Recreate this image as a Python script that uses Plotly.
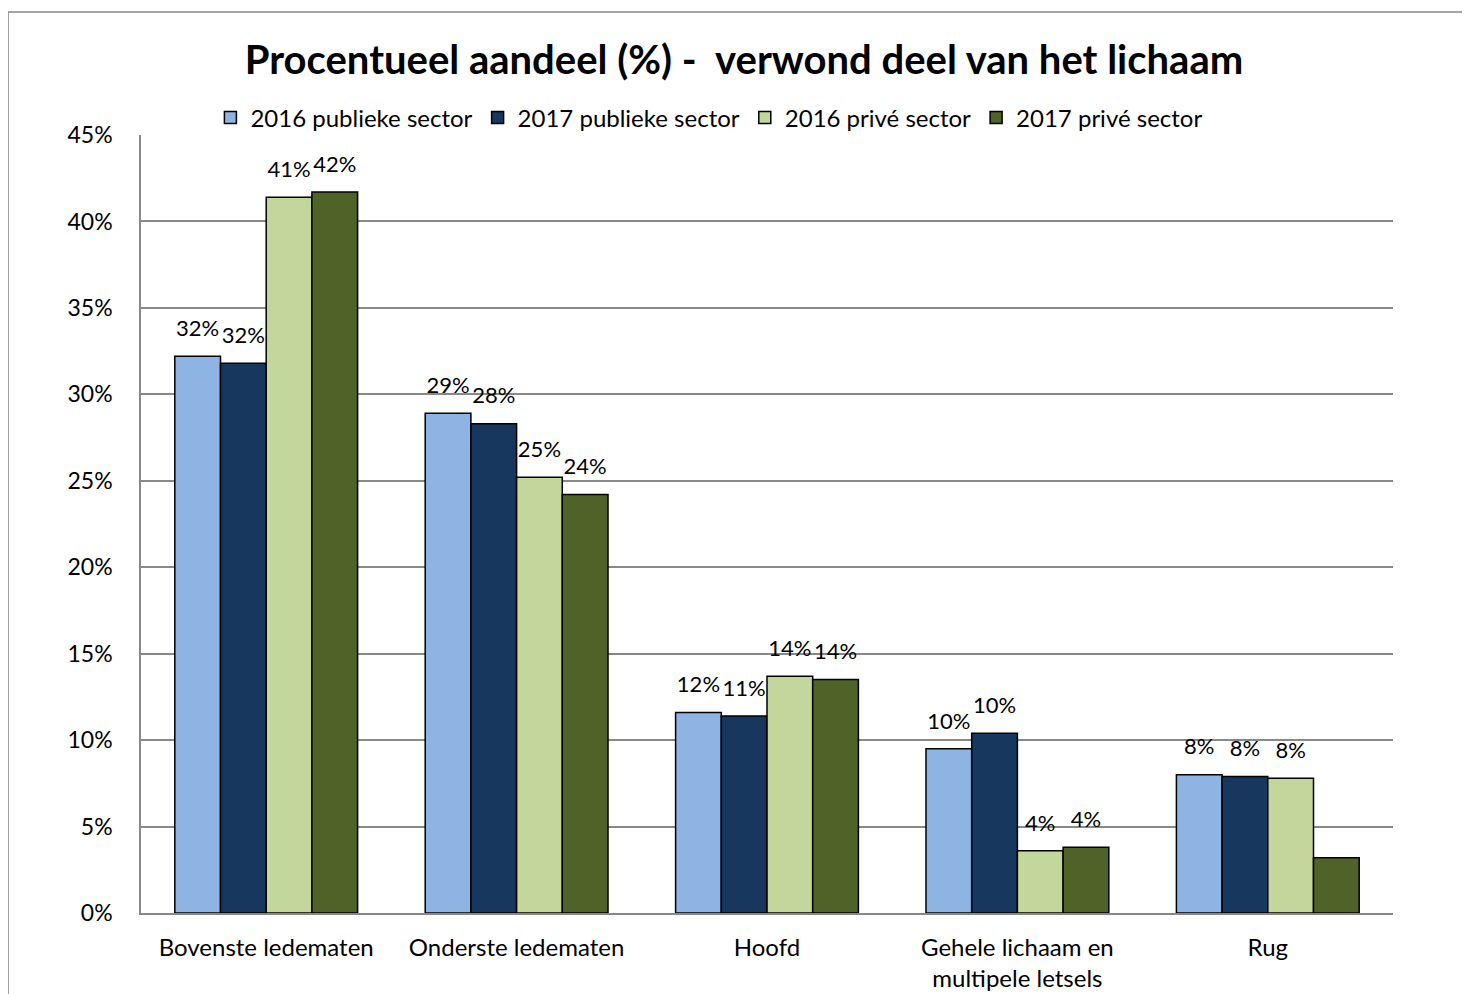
import plotly.graph_objects as go

categorieen = ["Bovenste ledematen", "Onderste ledematen", "Hoofd",
               "Gehele lichaam en<br>multipele letsels", "Rug"]

pub_2016 = [32.2, 28.9, 11.6, 9.5, 8.0]
pub_2017 = [31.8, 28.3, 11.4, 10.4, 7.9]
priv_2016 = [41.4, 25.2, 13.7, 3.6, 7.8]
priv_2017 = [41.7, 24.2, 13.5, 3.8, 3.2]

labels_pub_2016 = ["32%", "29%", "12%", "10%", "8%"]
labels_pub_2017 = ["32%", "28%", "11%", "10%", "8%"]
labels_priv_2016 = ["41%", "25%", "14%", "4%", "8%"]
labels_priv_2017 = ["42%", "24%", "14%", "4%", ""]

series = [
    ("2016 publieke sector", pub_2016, labels_pub_2016, "#8EB4E3"),
    ("2017 publieke sector", pub_2017, labels_pub_2017, "#17375E"),
    ("2016 privé sector", priv_2016, labels_priv_2016, "#C3D69B"),
    ("2017 privé sector", priv_2017, labels_priv_2017, "#4F6228"),
]

FONT = "Lato, 'Open Sans', sans-serif"
GRID = "#888888"

fig = go.Figure()
for i, (naam, waarden, labels, kleur) in enumerate(series):
    fig.add_trace(go.Bar(
        x=categorieen, y=waarden, name=naam, offsetgroup=str(i),
        marker=dict(color=kleur, line=dict(color="black", width=1.5)),
    ))

# labels als losse tekst boven de staven (zelfde groepering)
for i, (naam, waarden, labels, kleur) in enumerate(series):
    fig.add_trace(go.Scatter(
        x=categorieen, y=waarden, offsetgroup=str(i),
        mode="markers+text", text=labels, textposition="top center",
        marker=dict(size=22, opacity=0),
        textfont=dict(size=22, color="black", family=FONT),
        showlegend=False, hoverinfo="skip", cliponaxis=False,
    ))

fig.update_layout(
    width=1470, height=994,
    font=dict(family=FONT, color="black"),
    title=dict(
        text="<b>Procentueel aandeel (%) -  verwond deel van het lichaam</b>",
        font=dict(size=40, color="black"),
        x=0.5007, xanchor="center", y=0.948, yanchor="middle",
    ),
    barmode="group", bargap=0.27, bargroupgap=0,
    scattermode="group", scattergap=0.27,
    paper_bgcolor="white", plot_bgcolor="white",
    showlegend=True,
    legend=dict(
        orientation="h", x=0.454, xanchor="center", y=1.022, yanchor="middle",
        font=dict(size=24), traceorder="normal", itemwidth=30,
        bgcolor="rgba(0,0,0,0)",
    ),
    xaxis=dict(
        showline=True, linecolor=GRID, linewidth=1.5,
        tickfont=dict(size=24), ticks="", ticklabelstandoff=12,
    ),
    yaxis=dict(
        range=[0, 45], dtick=5, ticksuffix="%",
        showgrid=True, gridcolor=GRID, gridwidth=1.5,
        showline=True, linecolor=GRID, linewidth=1.5,
        zeroline=False, tickfont=dict(size=23), ticks="",
        ticklabelstandoff=22,
    ),
    margin=dict(l=133, r=85, t=127, b=89, autoexpand=False),
    shapes=[dict(
        type="rect", xref="paper", yref="paper",
        x0=-0.1062, x1=1.2, y0=-0.2, y1=1.158,
        line=dict(color="#888888", width=1.5), layer="below",
    )],
)

fig.write_html("out.html")
